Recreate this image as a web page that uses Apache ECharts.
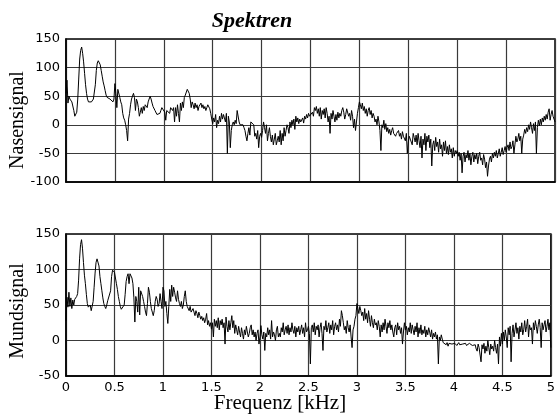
<!DOCTYPE html>
<html><head><meta charset="utf-8">
<script src="https://cdn.jsdelivr.net/npm/echarts@6/dist/echarts.min.js"></script>
<style>html,body{margin:0;padding:0;background:#fff}#c{width:558px;height:414px}</style>
</head><body><div id="c"></div>
<script>
var freqStep = 0.01;
var xTicks = ['0','0.5','1','1.5','2','2.5','3','3.5','4','4.5','5'];
var nasalValues = [
55,78,38,50,45,48,40,38,25,15,
18,22,45,80,115,130,136,125,110,90,
70,55,45,40,40,42,40,38,45,48,
70,95,108,112,111,105,95,85,75,68,
60,52,48,45,50,45,42,48,40,45,
72,55,30,62,60,48,40,35,20,12,
8,0,-10,-28,10,20,35,45,50,55,
48,25,45,40,30,15,22,30,20,32,
25,35,38,30,40,38,50,45,38,32,
30,25,22,18,20,15,20,25,30,28,
30,22,8,25,28,25,20,30,28,25,
30,5,30,15,35,20,5,38,25,40,
30,48,52,55,62,62,55,45,30,40,
35,28,38,30,35,25,32,30,38,30,
35,28,32,25,30,35,32,28,20,10,
2,12,5,18,-5,8,2,15,5,20,
10,18,12,5,20,-50,15,5,-40,-10,
0,5,0,8,2,25,22,5,0,2,
-2,0,-5,-10,-20,-28,-15,-5,-18,5,
8,5,0,-20,-15,-25,-10,-40,-20,-15,
-22,-10,5,-5,-15,0,-28,-15,-5,-20,
-30,-18,-35,-25,-15,-35,-28,-20,-30,-10,
-35,-15,-28,-5,-20,-10,0,-5,-15,5,
-5,8,0,10,-8,15,5,12,2,10,
5,8,12,3,15,10,18,12,20,15,
18,12,22,15,30,25,32,20,28,15,
30,10,25,18,28,12,30,20,5,15,
-15,20,10,25,15,5,18,8,22,12,
20,15,25,30,22,10,18,28,25,15,
20,8,25,15,-5,10,-10,5,20,30,
40,35,28,38,25,32,20,28,15,25,
30,18,25,12,20,15,5,10,0,15,
5,-10,-45,0,-5,8,-8,2,-12,-5,
-15,-8,-18,-10,-5,-15,-12,-20,-15,-18,
-10,-20,-15,-25,-12,-20,-18,-28,-15,-50,
-30,-20,-25,-25,-35,-15,-22,-30,-18,-35,
-15,-28,-40,-20,-58,-25,-35,-15,-45,-20,
-30,-18,-40,-25,-72,-35,-28,-45,-22,-38,
-30,-48,-25,-42,-35,-55,-30,-45,-28,-50,
-38,-52,-35,-48,-42,-58,-40,-55,-45,-50,
-45,-55,-48,-62,-50,-84,-55,-48,-65,-52,
-58,-45,-62,-50,-70,-55,-48,-65,-52,-60,
-50,-68,-55,-48,-62,-58,-70,-52,-60,-75,
-65,-90,-72,-60,-55,-65,-50,-58,-48,-55,
-45,-58,-50,-42,-55,-48,-40,-52,-45,-38,
-48,-40,-35,-45,-30,-42,-38,-28,-50,-35,
-20,-30,-25,-15,-28,-20,-50,-25,-18,-8,
-15,-5,-12,0,-8,5,-5,-15,2,-10,
5,-50,-5,8,-2,10,0,12,5,15,
8,18,10,22,28,8,18,25,15,10,
5
];
var mouthValues = [
28,61,47,68,48,60,45,57,50,58,
57,62,66,85,115,135,142,130,110,92,
80,65,52,47,45,50,42,40,55,75,
95,110,115,115,105,90,80,70,60,52,
48,45,50,56,58,55,70,90,99,98,
96,88,80,72,62,55,48,44,42,44,
50,65,83,90,94,80,94,92,88,80,
60,26,62,55,40,75,36,70,72,62,
55,48,40,35,52,75,68,55,45,40,
35,42,55,62,58,48,52,66,55,45,
75,70,48,55,38,24,48,72,55,78,
62,75,68,60,55,70,58,52,48,55,
45,50,62,70,55,48,50,42,48,40,
38,45,40,35,42,38,32,40,35,30,
34,28,32,25,30,38,22,28,20,25,
16,25,5,30,20,28,18,32,15,28,
22,30,18,25,-5,33,20,12,28,15,
25,35,18,28,10,22,15,8,20,12,
5,18,10,2,15,8,20,12,5,10,
18,22,8,15,5,12,0,10,15,-5,
5,21,8,2,12,-14,10,5,18,8,
15,2,28,5,12,8,0,15,20,5,
10,5,18,12,25,8,15,20,10,22,
8,18,12,25,15,10,20,5,18,12,
20,8,15,22,10,18,5,25,12,15,
20,10,-33,18,22,12,25,8,20,15,
22,5,18,25,10,-14,20,15,28,12,
18,25,10,22,15,28,8,20,25,15,
22,12,30,20,42,35,25,15,20,10,
28,18,12,22,5,-10,15,20,30,35,
52,45,38,48,42,35,40,28,45,30,
38,25,42,30,20,35,25,18,30,22,
25,15,28,20,5,22,12,25,15,30,
20,10,25,18,28,15,22,12,5,18,
22,8,25,15,20,10,18,-5,12,25,
15,20,8,18,12,25,10,22,15,8,
20,12,25,5,18,10,22,8,15,10,
20,5,15,8,18,12,5,15,2,10,
5,12,2,8,-33,5,0,8,2,-3,
-5,-2,-6,-3,-8,-4,-6,-2,-5,-3,
-6,-4,-2,-7,-5,-3,-6,-4,-8,-5,
-3,-6,-4,-7,-5,-8,-4,-6,-3,-7,
-5,-9,-6,-12,-15,-5,-10,-8,-30,-6,
-12,-4,-18,-8,-15,0,-10,-20,-5,-12,
-8,-15,0,-10,-18,-5,-33,5,-8,10,
-5,12,0,15,5,-10,18,8,20,-30,
10,22,5,15,25,10,18,2,20,12,
25,8,15,28,12,20,30,5,22,15,
18,-5,25,15,28,20,10,22,30,18,
-10,25,15,22,28,12,20,30,15,25,
-10
];

function toPairs(vals){ return vals.map(function(v,i){ return [+(i*freqStep).toFixed(2), v]; }); }

var chart = echarts.init(document.getElementById('c'), null, {renderer:'canvas'});
var gridLine = {show:true, lineStyle:{color:'#3a3a3a', width:1.2}};
var tickFont = {color:'#000', fontFamily:'DejaVu Sans', fontSize:13};
function xAx(idx, showLabels){
  return {type:'value', gridIndex:idx, min:0, max:5, interval:0.5,
    axisLine:{show:true, onZero:false, lineStyle:{color:'#000', width:1.5}},
    axisTick:{show:false},
    axisLabel:Object.assign({show:showLabels, margin:5, formatter:function(v){ var s=xTicks[Math.round(v/0.5)]; return s===undefined? '' : s; }}, tickFont),
    splitLine:gridLine};
}
function yAx(idx, mn, mx){
  return {type:'value', gridIndex:idx, min:mn, max:mx, interval:50,
    axisLine:{show:true, onZero:false, lineStyle:{color:'#000', width:1.5}},
    axisTick:{show:false},
    axisLabel:Object.assign({margin:6}, tickFont),
    splitLine:gridLine};
}
var serifName = '20px "Liberation Serif"';
chart.setOption({
  animation:false,
  backgroundColor:'#fff',
  grid:[
    {left:66, top:39, width:489, height:143, show:true, borderColor:'#000', borderWidth:1.5, backgroundColor:'transparent'},
    {left:66, top:234, width:489, height:142, show:true, borderColor:'#000', borderWidth:1.5, backgroundColor:'transparent'}
  ],
  xAxis:[xAx(0,false), xAx(1,true)],
  yAxis:[yAx(0,-100,150), yAx(1,-50,150)],
  graphic:[
    {type:'text', x:252, y:21, style:{text:'Spektren', textAlign:'center', textVerticalAlign:'middle', font:'italic bold 22px "Liberation Serif"', fill:'#000'}},
    {type:'text', x:280, y:403, style:{text:'Frequenz [kHz]', textAlign:'center', textVerticalAlign:'middle', font:'21px "Liberation Serif"', fill:'#000'}},
    {type:'text', x:18, y:120, rotation:Math.PI/2, style:{text:'Nasensignal', textAlign:'center', textVerticalAlign:'middle', font:serifName, fill:'#000'}},
    {type:'text', x:18, y:311, rotation:Math.PI/2, style:{text:'Mundsignal', textAlign:'center', textVerticalAlign:'middle', font:serifName, fill:'#000'}}
  ],
  series:[
    {type:'line', xAxisIndex:0, yAxisIndex:0, data:toPairs(nasalValues), showSymbol:false, symbol:'none', lineStyle:{color:'#000', width:1}},
    {type:'line', xAxisIndex:1, yAxisIndex:1, data:toPairs(mouthValues), showSymbol:false, symbol:'none', lineStyle:{color:'#000', width:1}}
  ]
});
</script></body></html>
